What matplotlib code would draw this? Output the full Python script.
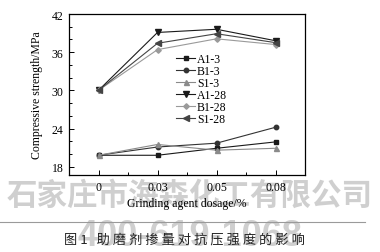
import matplotlib
matplotlib.use("Agg")
import matplotlib.pyplot as plt
from matplotlib.lines import Line2D
from matplotlib.ticker import MultipleLocator, FixedLocator

# ---- data ----
dosage_labels = ["0", "0.03", "0.05", "0.08"]
series_names = ["A1-3", "B1-3", "S1-3", "A1-28", "B1-28", "S1-28"]
A1_3 = [19.8, 19.8, 20.9, 21.9]
B1_3 = [19.8, 21.1, 21.7, 24.2]
S1_3 = [19.8, 21.5, 20.6, 20.9]
A1_28 = [30.0, 39.1, 39.6, 37.8]
B1_28 = [30.0, 36.4, 38.1, 37.2]
S1_28 = [30.0, 37.4, 38.9, 37.5]
y_ticks = [18, 24, 30, 36, 42]
x_label = "Grinding agent dosage/%"
y_label = "Compressive strength/MPa"
caption = "图 1   助 磨 剂 掺 量 对 抗 压 强 度 的 影 响"
watermark1 = "石家庄市海森化工有限公司"
watermark2 = "400-619-1068"

serif = ["Liberation Serif", "DejaVu Serif"]
plt.rcParams["font.family"] = serif

fig = plt.figure(figsize=(3.8, 2.53), dpi=100)
fig.patch.set_facecolor("white")

# watermark (behind)
fig.text(0.5, 1 - 196 / 253, watermark1, ha="center", va="center",
         fontsize=22, color="#cfcfcf", fontweight="bold",
         family=["Noto Sans CJK SC", "DejaVu Sans"], zorder=-5)
fig.text(0.5, 1 - 237 / 253, watermark2, ha="center", va="center",
         fontsize=26, color="#cfcfcf", fontweight="bold",
         family=["Liberation Sans", "DejaVu Sans"], zorder=-5)

ax = fig.add_axes([69 / 380, 1 - 176 / 253, 236 / 380, 161 / 253])
ax.patch.set_alpha(0)

x = list(range(len(dosage_labels)))
styles = [
    (A1_3, "s", "#1a1a1a", 3.2),
    (B1_3, "o", "#333333", 3.2),
    (S1_3, "^", "#8a8a8a", 3.6),
    (A1_28, "v", "#1a1a1a", 4.0),
    (B1_28, "D", "#9a9a9a", 2.8),
    (S1_28, "<", "#444444", 4.0),
]
for (vals, mk, col, ms), name in zip(styles, series_names):
    ax.plot(x, vals, marker=mk, color=col, lw=0.8, ms=ms, label=name)

ax.set_xlim(-0.5, 3.5)
ax.set_ylim(16.7, 42)
ax.set_xticks(x)
ax.set_xticklabels(dosage_labels)
ax.xaxis.set_minor_locator(FixedLocator([0.5, 1.5, 2.5]))
ax.set_yticks(y_ticks)
ax.yaxis.set_minor_locator(MultipleLocator(2))
ax.tick_params(which="both", direction="in", top=False, right=False,
               labelsize=8.5, width=0.7)
ax.tick_params(which="major", length=3.5, pad=4)
ax.tick_params(which="minor", length=2)
for s in ax.spines.values():
    s.set_linewidth(0.9)

ax.set_xlabel(x_label, fontsize=8.5, labelpad=3)
ax.set_ylabel(y_label, fontsize=8.5, labelpad=6)

leg = ax.legend(loc="upper left", bbox_to_anchor=(0.455, 0.76), frameon=False,
                fontsize=8.5, labelspacing=0.0, handlelength=1.6,
                handletextpad=0.15, borderpad=0, borderaxespad=0)

# separator line
fig.add_artist(Line2D([0.0, 0.96], [1 - 223 / 253, 1 - 223 / 253],
                      transform=fig.transFigure, color="#9a9a9a", lw=0.8))

fig.text(0.485, 1 - 240 / 253, caption, ha="center", va="center", fontsize=9.5,
         color="#222222", family=["Noto Sans CJK SC", "DejaVu Sans"])

fig.savefig("out.png", dpi=100)
